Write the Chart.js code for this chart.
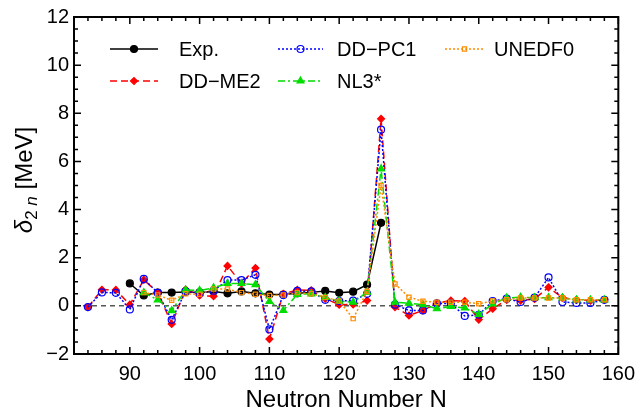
<!DOCTYPE html>
<html>
<head>
<meta charset="utf-8">
<script src="https://cdn.jsdelivr.net/npm/chart.js@4.4.1/dist/chart.umd.min.js"></script>
<style>
  body { margin: 0; background: #fff; }
</style>
</head>
<body>
<canvas id="chart" width="643" height="416"></canvas>
<script>
// neutron numbers (even N)
const neutronN = [84, 86, 88, 90, 92, 94, 96, 98, 100, 102, 104, 106, 108, 110, 112, 114, 116, 118, 120, 122,
                  124, 126, 128, 130, 132, 134, 136, 138, 140, 142, 144, 146, 148, 150, 152, 154, 156, 158]

// delta_2n values in MeV, null where there is no point
const expVals = [null, null, null, 0.93, 0.43, 0.55, 0.55, 0.58, 0.56, 0.6, 0.52, 0.6, 0.52, 0.47, 0.47, 0.52, 0.56, 0.62, 0.54, 0.59,
                 0.88, 3.45, null, null, null, null, null, null, null, null, null, null, null, null, null, null, null, null]
const ddme2Vals = [-0.05, 0.67, 0.66, 0.05, 1.08, 0.56, -0.75, 0.68, 0.43, 0.4, 1.66, 0.93, 1.57, -1.38, 0.5, 0.66, 0.64, 0.3, 0.05, 0.06,
                   0.22, 7.77, -0.05, -0.4, -0.19, 0.11, 0.22, 0.2, -0.57, -0.12, 0.25, 0.22, 0.29, 0.77, 0.34, 0.25, 0.22, 0.25]
const ddpc1Vals = [-0.05, 0.56, 0.54, -0.15, 1.12, 0.54, -0.58, 0.6, 0.52, 0.63, 1.07, 1.07, 1.29, -0.98, 0.45, 0.62, 0.6, 0.25, 0.2, 0.22,
                   0.5, 7.32, 0.05, -0.19, -0.19, 0.1, 0.1, -0.42, -0.37, 0.2, 0.3, 0.16, 0.34, 1.18, 0.16, 0.12, 0.12, 0.25]
const nl3Vals = [null, null, null, null, 0.55, 0.25, -0.2, 0.66, 0.64, 0.75, 0.93, 0.93, 0.88, 0.18, -0.19, 0.48, 0.5, 0.35, 0.2, 0.15,
                 0.57, 5.69, 0.15, 0.11, 0.05, -0.12, -0.02, -0.09, -0.35, 0.08, 0.33, 0.36, 0.34, 0.34, 0.33, 0.25, 0.25, 0.25]
const unedfVals = [null, null, null, null, 0.55, 0.45, 0.23, 0.5, 0.48, 0.7, 0.7, 0.55, 0.48, 0.43, 0.45, 0.55, 0.5, 0.35, 0.2, -0.53,
                   0.6, 5.0, 0.91, 0.36, 0.19, 0.15, 0.15, 0.15, 0.09, 0.2, 0.25, 0.33, 0.33, 0.33, 0.33, 0.25, 0.25, 0.25]

const xTicks = [90, 100, 110, 120, 130, 140, 150, 160]
const yTicks = [-2, 0, 2, 4, 6, 8, 10, 12]

const FONT = '"Liberation Sans", Arial, sans-serif'

function toPoints(vals) {
    let pts = []
    vals.forEach(function (v, i) {
        if (v !== null) pts.push({ x: neutronN[i], y: v })
    })
    return pts
}

const series = [
    { label: 'Exp.', vals: expVals, color: '#000000', dash: [], style: 'circle', fill: true, r: 3.5 },
    { label: 'DD\u2212ME2', vals: ddme2Vals, color: '#ff0000', dash: [7, 4], style: 'rectRot', fill: true, r: 3.5 },
    { label: 'DD\u2212PC1', vals: ddpc1Vals, color: '#0000ff', dash: [2, 2], style: 'circle', fill: false, r: 3.5 },
    { label: 'NL3*', vals: nl3Vals, color: '#00dd00', dash: [7, 3, 2, 3], style: 'triangle', fill: true, r: 4 },
    { label: 'UNEDF0', vals: unedfVals, color: '#ff8c00', dash: [2, 2], style: 'rect', fill: false, r: 3 }
]

// where each legend entry sits: [lineStart, lineEnd, y, textX]
const legendSpots = [[110, 158, 49, 179], [110, 158, 81, 179], [278, 323, 49, 337], [278, 323, 81, 337], [445, 484, 49, 494]]

function drawMarker(ctx, s, x, y) {
    ctx.save()
    ctx.setLineDash([])
    ctx.lineWidth = 1.2
    ctx.strokeStyle = s.color
    ctx.fillStyle = s.fill ? s.color : 'rgba(0,0,0,0)'
    Chart.helpers.drawPoint(ctx, { pointStyle: s.style, radius: s.r, rotation: 0, borderWidth: 1.2 }, x, y)
    ctx.restore()
}

const decor = {
    id: 'decor',
    beforeDatasetsDraw(chart) {
        const ctx = chart.ctx
        const a = chart.chartArea
        const y0 = chart.scales.y.getPixelForValue(0)
        ctx.save()
        ctx.strokeStyle = '#000'
        ctx.lineWidth = 1
        ctx.setLineDash([5, 4])
        ctx.beginPath()
        ctx.moveTo(a.left, y0)
        ctx.lineTo(a.right, y0)
        ctx.stroke()
        ctx.restore()
    },
    afterDraw(chart) {
        const ctx = chart.ctx
        const a = chart.chartArea
        const xs = chart.scales.x
        const ys = chart.scales.y
        ctx.save()
        ctx.strokeStyle = '#000'
        ctx.setLineDash([])

        // inward ticks on all four sides
        ctx.lineWidth = 1.5
        ctx.beginPath()
        for (let v = 82; v <= 160; v += 2) {
            const px = xs.getPixelForValue(v)
            const len = v % 10 === 0 ? 7 : 4
            ctx.moveTo(px, a.bottom); ctx.lineTo(px, a.bottom - len)
            ctx.moveTo(px, a.top); ctx.lineTo(px, a.top + len)
        }
        for (let v = -2; v <= 12; v += 0.5) {
            const py = ys.getPixelForValue(v)
            const len = v % 2 === 0 ? 7 : 4
            ctx.moveTo(a.left, py); ctx.lineTo(a.left + len, py)
            ctx.moveTo(a.right, py); ctx.lineTo(a.right - len, py)
        }
        ctx.stroke()

        // frame
        ctx.lineWidth = 2
        ctx.strokeRect(a.left, a.top, a.right - a.left, a.bottom - a.top)

        // legend
        ctx.font = '20px ' + FONT
        ctx.fillStyle = '#000'
        ctx.textBaseline = 'middle'
        ctx.textAlign = 'left'
        series.forEach(function (s, i) {
            const spot = legendSpots[i]
            ctx.save()
            ctx.strokeStyle = s.color
            ctx.lineWidth = 1.5
            ctx.setLineDash(s.dash)
            ctx.beginPath()
            ctx.moveTo(spot[0], spot[2])
            ctx.lineTo(spot[1], spot[2])
            ctx.stroke()
            ctx.restore()
            drawMarker(ctx, s, (spot[0] + spot[1]) / 2, spot[2])
            ctx.fillText(s.label, spot[3], spot[2] + 1)
        })

        // x axis title
        ctx.textAlign = 'center'
        ctx.textBaseline = 'alphabetic'
        ctx.font = '24px ' + FONT
        ctx.fillText('Neutron Number N', (a.left + a.right) / 2, 407)

        // y axis title, rotated, with italic delta and subscript
        ctx.translate(32, 180)
        ctx.rotate(-Math.PI / 2)
        const parts = [
            { t: '\u03b4', f: 'italic 24px ', dy: 0 },
            { t: '2', f: '17px ', dy: 5 },
            { t: ' n', f: 'italic 17px ', dy: 5 },
            { t: ' [MeV]', f: '24px ', dy: 0 }
        ]
        let total = 0
        parts.forEach(function (p) { ctx.font = p.f + FONT; total += ctx.measureText(p.t).width })
        let cx = -total / 2
        ctx.textAlign = 'left'
        parts.forEach(function (p) {
            ctx.font = p.f + FONT
            ctx.fillText(p.t, cx, p.dy)
            cx += ctx.measureText(p.t).width
        })
        ctx.restore()
    }
}

new Chart(document.getElementById('chart'), {
    type: 'line',
    data: {
        datasets: series.map(function (s, i) {
            return {
                label: s.label,
                data: toPoints(s.vals),
                borderColor: s.color,
                backgroundColor: s.fill ? s.color : 'rgba(0,0,0,0)',
                borderWidth: 1.5,
                borderDash: s.dash,
                pointStyle: s.style,
                pointRadius: s.r,
                pointBorderColor: s.color,
                pointBackgroundColor: s.fill ? s.color : 'rgba(0,0,0,0)',
                pointBorderWidth: 1.2,
                tension: 0,
                fill: false,
                order: 5 - i
            }
        })
    },
    options: {
        responsive: false,
        devicePixelRatio: 1,
        animation: false,
        layout: { padding: { left: 0, right: 17, top: 14, bottom: 0 } },
        plugins: { legend: { display: false }, tooltip: { enabled: false } },
        scales: {
            x: {
                type: 'linear',
                min: 82,
                max: 160,
                grid: { display: false, drawTicks: false },
                border: { display: false },
                afterBuildTicks: function (scale) { scale.ticks = xTicks.map(v => ({ value: v })) },
                afterFit: function (scale) { scale.height = 62 },
                ticks: { color: '#000', padding: 8, maxRotation: 0, font: { size: 20, family: FONT } }
            },
            y: {
                min: -2,
                max: 12,
                grid: { display: false, drawTicks: false },
                border: { display: false },
                afterBuildTicks: function (scale) { scale.ticks = yTicks.map(v => ({ value: v })) },
                afterFit: function (scale) { scale.width = 74 },
                ticks: {
                    color: '#000', padding: 5, font: { size: 20, family: FONT },
                    callback: function (v) { return v < 0 ? '\u2212' + Math.abs(v) : String(v) }
                }
            }
        }
    },
    plugins: [decor]
})
</script>
</body>
</html>
